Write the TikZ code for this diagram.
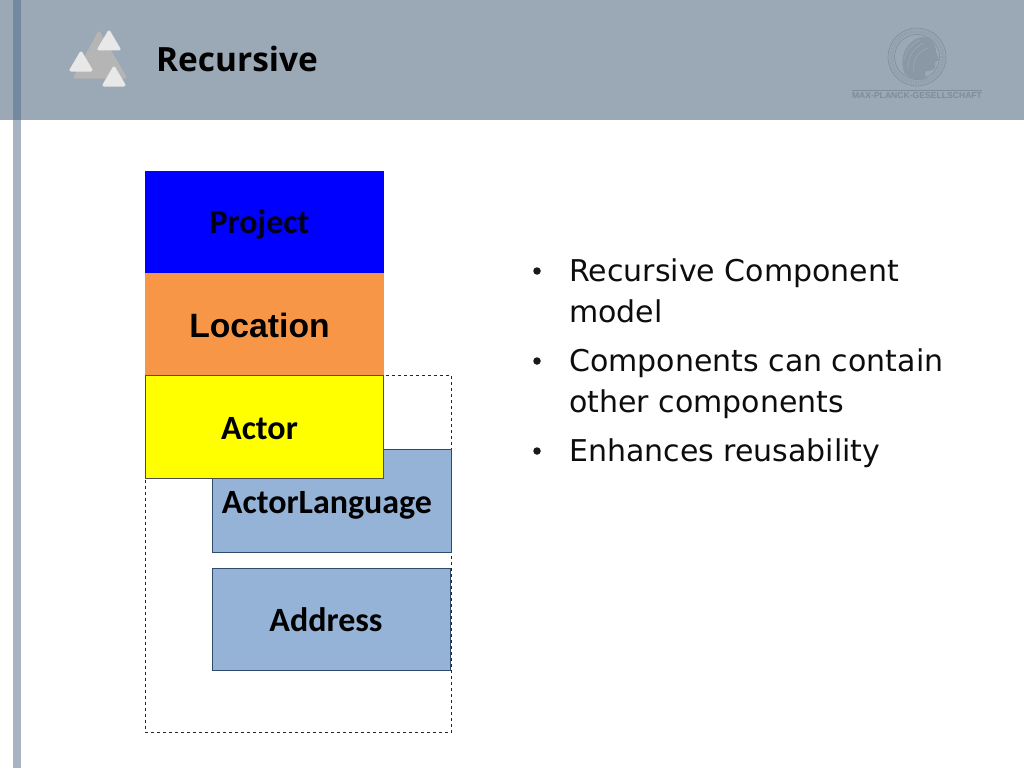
\documentclass[tikz,border=0pt]{standalone}
\usepackage{fontspec}
\setmainfont{Carlito}
\newfontfamily\bodyfont{DejaVu Sans}
\newfontfamily\titlefont{Open Sans}
\newfontfamily\arialfont{Liberation Sans}
\definecolor{headerbg}{HTML}{9BA8B5}
\definecolor{strip}{HTML}{A6B4C4}
\definecolor{stripdark}{HTML}{74889F}
\definecolor{blueb}{HTML}{0000FF}
\definecolor{orangeb}{HTML}{F79646}
\definecolor{yellowb}{HTML}{FFFF00}
\definecolor{steel}{HTML}{95B3D7}
\definecolor{steeledge}{HTML}{2F4A6B}
\definecolor{seal}{HTML}{7F8C99}
\definecolor{tri}{HTML}{E8E8E8}
\definecolor{tridark}{HTML}{B5B5B5}
\tikzset{
  blockbox/.style={anchor=north west,minimum width=#1,inner sep=0pt,outer sep=0pt,minimum height=102.5pt},
  lbl/.style={font=\fontsize{34}{36}\bfseries,text=black,inner sep=0pt,anchor=base},
  bullettext/.style={anchor=base west,inner sep=0pt,font=\bodyfont\fontsize{30}{34}\selectfont,text=black!95},
  bulletdot/.style={circle,fill=black!90,minimum size=7.5pt,inner sep=0pt},
  trilight/.style={fill=tri,draw=tri,line width=3pt,line join=round},
  tridk/.style={fill=tridark,draw=tridark,line width=3pt,line join=round}
}
\begin{document}
\begin{tikzpicture}[x=1pt,y=-1pt]
\useasboundingbox (0,0) rectangle (1024,768);
\fill[white] (0,0) rectangle (1024,768);
% header and strips
\fill[headerbg] (0,0) rectangle (1024,120);
\fill[strip] (13,120) rectangle (21,768);
\fill[stripdark] (13,0) rectangle (21,120);
% logo
\draw[tridk] (99,33) -- (125,77) -- (75,77) -- cycle;
\draw[trilight] (109,32) -- (119,49) -- (99,49) -- cycle;
\draw[trilight] (81,53) -- (91,70) -- (71,70) -- cycle;
\draw[trilight] (114,68) -- (124,85) -- (104,85) -- cycle;
\node[anchor=base west,inner sep=0pt,font=\titlefont\fontsize{33.4}{36}\bfseries,text=black] (title) at (156,71) {Recursive};
% seal
\begin{scope}[seal,line width=.6pt]
\draw (917,57) circle (29);
\draw (917,57) circle (22.5);
\draw[dash pattern=on 1.2pt off 1.2pt,line width=4pt,seal!85] (917,57) circle (25.8);
\fill[seal!60!headerbg] (905,74) .. controls (898,60) and (905,40) .. (922,37) .. controls (932,37) and (936,46) .. (936,52) -- (939,60) -- (935,62) -- (935,68) .. controls (932,72) and (926,70) .. (925,72) -- (926,79) .. controls (920,81) and (912,80) .. (905,74) -- cycle;
\draw[headerbg,line width=.6pt] (908,68) .. controls (908,56) and (914,47) .. (924,43);
\draw[headerbg,line width=.6pt] (914,72) .. controls (912,60) and (918,52) .. (928,48);
\draw[headerbg,line width=.6pt] (904,60) .. controls (906,50) and (912,44) .. (920,40);
\draw (852,90) -- (982,90);
\end{scope}
\node[font=\arialfont\fontsize{8.6}{9}\bfseries,text=seal,inner sep=0pt] (mpg) at (917,95.5) {MAX-PLANCK-GESELLSCHAFT};
% dashed frame
\node[draw=black!85,dashed,line width=.8pt,outer sep=0pt,anchor=north west,minimum width=306.5pt,minimum height=357pt,inner sep=0pt] (frame) at (145,375.5) {};
% blocks
\node[blockbox=239pt,fill=blueb] (project) at (145,170.5) {};
\node[lbl,text=black!90!blue] at (259.5,233) {Project};
\node[blockbox=239pt,fill=orangeb] (location) at (145,273) {};
\node[inner sep=0pt,anchor=base,font=\arialfont\fontsize{33.7}{36}\bfseries,text=black] at (259.5,337) {Location};
\node[blockbox=238.5pt,fill=steel,draw=steeledge,line width=.9pt] (actorlang) at (212.5,449.5) {};
\node[lbl] at (327,513) {ActorLanguage};
\node[blockbox=238.5pt,fill=steel,draw=steeledge,line width=.9pt] (address) at (212,568) {};
\node[lbl] at (326,631) {Address};
\node[blockbox=238.5pt,fill=yellowb,draw=black!70,line width=.9pt] (actor) at (145,375.5) {};
\node[lbl] at (259.5,439) {Actor};
% bullets
\node[bulletdot] (b1) at (537,271) {};
\node[bullettext] (t1) at (569,281) {Recursive Component};
\node[bullettext] (t1b) at (569,322) {model};
\node[bulletdot] (b2) at (537,361) {};
\node[bullettext] (t2) at (569,371) {Components can contain};
\node[bullettext] (t2b) at (569,412) {other components};
\node[bulletdot] (b3) at (537,451) {};
\node[bullettext] (t3) at (569,461) {Enhances reusability};
\end{tikzpicture}
\end{document}
